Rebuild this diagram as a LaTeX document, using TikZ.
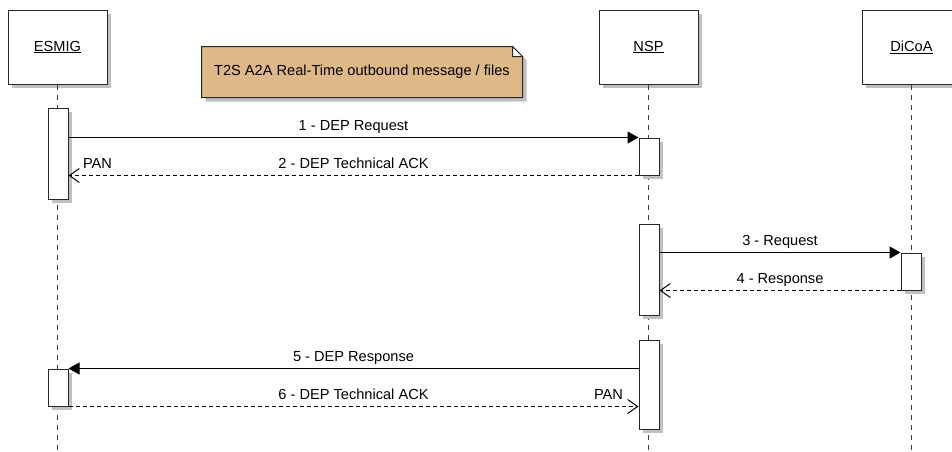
\documentclass[tikz,border=0pt]{standalone}
\usepackage{fontspec}
\setmainfont{Liberation Sans}
\usetikzlibrary{arrows.meta}
\usetikzlibrary{calc}

\definecolor{notefill}{RGB}{222,184,135}
\definecolor{shadowgray}{RGB}{192,192,192}
\definecolor{linegray}{RGB}{40,40,40}

\begin{document}
\begin{tikzpicture}[x=1pt,y=-1pt,line width=1pt,font=\fontsize{14.6}{17}\selectfont,
					>={Triangle[length=11pt,width=12pt]}]
					\tikzstyle{actor}=[draw=linegray,fill=white,minimum width=99pt,minimum height=74pt,inner sep=0pt,
					                   preaction={fill=shadowgray,draw=none,transform canvas={shift={(4pt,-4pt)}}}]
					\tikzstyle{bar}=[draw=linegray,fill=white,minimum width=20pt,inner sep=0pt,
					                 preaction={fill=shadowgray,draw=none,transform canvas={shift={(4pt,-4pt)}}}]
					\tikzstyle{lifeline}=[draw=linegray!90,dash pattern=on 5pt off 5pt]
					\tikzstyle{msg}=[->]
					\tikzstyle{reply}=[-{Straight Barb[length=10pt,width=14pt]},dash pattern=on 4pt off 3pt]
					\tikzstyle{lbl}=[anchor=base,inner sep=0pt,yshift=7.5pt]
					
					\useasboundingbox (0,0) rectangle (952,451);
					
					\node[actor]         (ESMIG) at (57.5,47)   {\underline{ESMIG}};
					\node[actor]         (NSP)   at (648.5,47)  {\underline{NSP}};
					\node[actor]         (DiCoA) at (911.5,47)  {\underline{DiCoA}};
					
					% note with folded corner
					\node[minimum width=320pt,minimum height=50pt,inner sep=0pt] (note) at (362,72) {};
					\fill[shadowgray] ($(note.north west)+(4,4)$) -- ($(note.north east)+(-6,4)$)
					      -- ($(note.north east)+(4,14)$) -- ($(note.south east)+(4,4)$)
					      -- ($(note.south west)+(4,4)$) -- cycle;
					\draw[draw=linegray,fill=notefill] (note.north west) -- ($(note.north east)+(-10,0)$)
					      -- ($(note.north east)+(0,10)$) -- (note.south east) -- (note.south west) -- cycle;
					\draw[draw=linegray,fill=white] ($(note.north east)+(-10,0)$) -- ($(note.north east)+(-10,10)$)
					      -- ($(note.north east)+(0,10)$) -- cycle;
					\node (notetext) at (note.center) {T2S A2A Real-Time outbound message / files};
					
					\coordinate (bottom) at (0,451);
					\draw[lifeline] (ESMIG.south) -- (ESMIG.south |- bottom);
					\draw[lifeline] (NSP.south)   -- (NSP.south |- bottom);
					\draw[lifeline] (DiCoA.south) -- (DiCoA.south |- bottom);
					
					\node[bar,minimum height=91pt] (E_1) at (58,153.5)  {};
					\node[bar,minimum height=37pt] (N_1) at (649,156.5) {};
					\node[bar,minimum height=91pt] (N_2) at (649,269.5) {};
					\node[bar,minimum height=37pt] (D_1) at (911,271.5) {};
					\node[bar,minimum height=89pt] (N_3) at (649,384.5) {};
					\node[bar,minimum height=37pt] (E_2) at (58,387.5)  {};
					
					\draw[msg]   (E_1.east |- N_1.north) -- node[lbl] {1 - DEP Request} (N_1.north west);
					\draw[reply] (N_1.south west) -- node[lbl] {2 - DEP Technical ACK} (N_1.south -| E_1.east)
					             node[lbl,at end,anchor=base west,xshift=14pt] {PAN};
					\draw[msg]   (N_2.east |- D_1.north) -- node[lbl] {3 - Request} (D_1.north west);
					\draw[reply] (D_1.south west) -- node[lbl] {4 - Response} (D_1.south -| N_2.east);
					\draw[msg]   (N_3.west |- E_2.north) -- node[lbl] {5 - DEP Response} (E_2.north east);
					\draw[reply] (E_2.south east) -- node[lbl] {6 - DEP Technical ACK} (E_2.south -| N_3.west)
					             node[lbl,at end,anchor=base east,xshift=-15pt] {PAN};
					
\end{tikzpicture}
\end{document}
